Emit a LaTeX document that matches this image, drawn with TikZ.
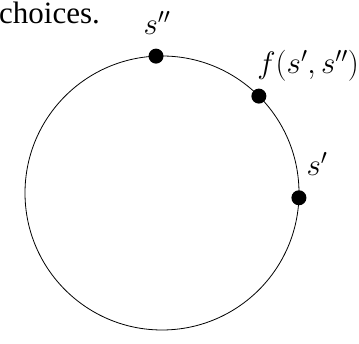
\RequirePackage{fix-cm}
\documentclass[tikz,border=0pt]{standalone}
\usepackage{fontspec}
\setmainfont{Liberation Serif}
\usepackage{tikz}
\usetikzlibrary{positioning,calc}

\begin{document}
\begin{tikzpicture}[x=1pt,y=1pt,
  dot/.style={circle,fill=black,inner sep=0pt,minimum size=15pt},
  lbl/.style={font=\fontsize{31}{36}\selectfont,inner sep=0pt}]
\useasboundingbox (0,0) rectangle (359,344);
\node[lbl,anchor=base west] (txt) at (-1,320) {choices.};
\coordinate (c) at (162,151);
\draw[line width=0.8pt] (c) circle (137);
\node[dot] (p2) at ($(c)+(92.5:137)$) {};
\node[dot] (pf) at ($(c)+(45:137)$) {};
\node[dot] (p1) at ($(c)+(-2:137)$) {};
\node[lbl] (l2) at (157,321) {$s''$};
\node[lbl,anchor=east] (lf) at (359,278) {$f(s',s'')$};
\node[lbl] (l1) at (317,180) {$s'$};
\end{tikzpicture}
\end{document}
